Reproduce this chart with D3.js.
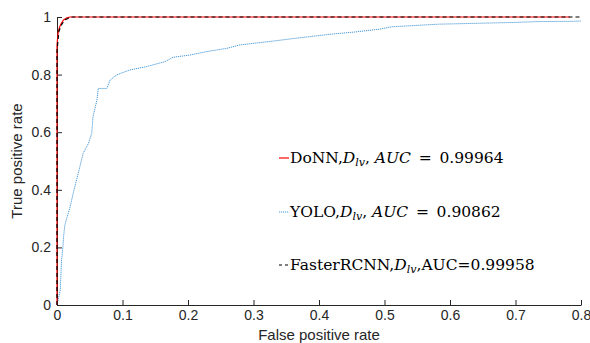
<!DOCTYPE html>
<html><head><meta charset="utf-8">
<script src="https://cdn.jsdelivr.net/npm/d3@7"></script>
<style>body{margin:0;background:#fff}svg{display:block}</style>
</head><body>
<script>
// ---- data ----
const xTicks = [0, 0.1, 0.2, 0.3, 0.4, 0.5, 0.6, 0.7, 0.8];
const yTicks = [0, 0.2, 0.4, 0.6, 0.8, 1];
const donnFpr = [0, 0, 0.001, 0.002, 0.004, 0.007, 0.010, 0.015, 0.020, 0.783];
const donnTpr = [0, 0.90, 0.93, 0.95, 0.965, 0.98, 0.99, 0.997, 1, 1];
const frcnnFpr = [0, 0, 0.002, 0.003, 0.006, 0.009, 0.012, 0.017, 0.022, 0.8];
const frcnnTpr = [0, 0.88, 0.93, 0.95, 0.97, 0.98, 0.99, 0.995, 1, 1];
const yoloFpr = [0, 0.002, 0.005, 0.007, 0.009, 0.010, 0.012, 0.020, 0.026, 0.033, 0.040, 0.048, 0.053, 0.055, 0.061, 0.063, 0.076, 0.081, 0.091, 0.111, 0.137, 0.165, 0.177, 0.203, 0.229, 0.259, 0.279, 0.325, 0.371, 0.417, 0.455, 0.493, 0.511, 0.582, 0.658, 0.696, 0.733, 0.788, 0.8];
const yoloTpr = [0, 0.02, 0.052, 0.156, 0.20, 0.237, 0.278, 0.341, 0.40, 0.463, 0.527, 0.561, 0.596, 0.654, 0.712, 0.752, 0.752, 0.781, 0.799, 0.816, 0.828, 0.845, 0.86, 0.868, 0.88, 0.891, 0.903, 0.915, 0.928, 0.94, 0.948, 0.958, 0.966, 0.975, 0.979, 0.981, 0.984, 0.985, 0.986];
const seriesNames = ["DoNN", "YOLO", "FasterRCNN"];
const aucValues = ["0.99964", "0.90862", "0.99958"];

const W = 590, H = 343;
const svg = d3.select("body").append("svg").attr("width", W).attr("height", H);
const x = d3.scaleLinear().domain([0, 0.8]).range([57, 581]);
const y = d3.scaleLinear().domain([0, 1]).range([305, 17]);
const axisColor = "#262626";
const tickFont = "Liberation Sans, Arial, sans-serif";

const xa = svg.append("g").attr("transform", `translate(0,${y(0)})`)
  .call(d3.axisBottom(x).tickValues(xTicks).tickFormat(d => d3.format("")(+d.toFixed(1))).tickSizeInner(-5).tickSizeOuter(0).tickPadding(5));
const ya = svg.append("g").attr("transform", `translate(${x(0)},0)`)
  .call(d3.axisLeft(y).tickValues(yTicks).tickFormat(d => d3.format("")(+d.toFixed(1))).tickSizeInner(-5).tickSizeOuter(0).tickPadding(6));
[xa, ya].forEach(g => {
  g.selectAll("path,line").attr("stroke", axisColor).attr("stroke-width", 1);
  g.selectAll("text").attr("fill", axisColor).style("font-family", tickFont).style("font-size", "14px");
});

svg.append("text").attr("x", x(0.4)).attr("y", 340).attr("text-anchor", "middle")
  .style("font-family", tickFont).style("font-size", "15px").attr("fill", axisColor).text("False positive rate");
svg.append("text").attr("transform", `translate(22,${y(0.5)}) rotate(-90)`).attr("text-anchor", "middle")
  .style("font-family", tickFont).style("font-size", "15px").attr("fill", axisColor).text("True positive rate");

const line = d3.line().x(d => x(d[0])).y(d => y(d[1]));
const zip = (a, b) => a.map((v, i) => [v, b[i]]);
const styles = [
  {stroke: "#ff0000", w: 1.2, dash: null},
  {stroke: "#4a9ad8", w: 1, dash: "1.2,0.8"},
  {stroke: "#000000", w: 1.2, dash: "4,3"}
];
const data = [zip(donnFpr, donnTpr), zip(yoloFpr, yoloTpr), zip(frcnnFpr, frcnnTpr)];
[1, 0, 2].forEach(i => {
  svg.append("path").datum(data[i]).attr("d", line).attr("fill", "none")
    .attr("stroke", styles[i].stroke).attr("stroke-width", styles[i].w)
    .attr("stroke-dasharray", styles[i].dash);
});

// legend
const serif = "DejaVu Serif, Liberation Serif, serif";
const rows = [163, 217, 270];
rows.forEach((by, i) => {
  svg.append("line").attr("x1", 279).attr("x2", 289).attr("y1", by - 5).attr("y2", by - 5)
    .attr("stroke", styles[i].stroke).attr("stroke-width", styles[i].w).attr("stroke-dasharray", i === 2 ? "3,3" : styles[i].dash);
  const t = svg.append("text").attr("x", 290).attr("y", by).style("font-family", serif).style("font-size", "15.5px").attr("fill", "#000");
  t.append("tspan").text(seriesNames[i] + ",");
  t.append("tspan").style("font-style", "italic").text("D");
  t.append("tspan").style("font-style", "italic").style("font-size", "11px").attr("dy", 3).text("lv");
  if (i < 2) {
    t.append("tspan").attr("dy", -3).text(", ");
    t.append("tspan").style("font-style", "italic").text("AUC");
    t.append("tspan").text("\u2002=\u2002" + aucValues[i]);
  } else {
    t.append("tspan").attr("dy", -3).text(",AUC=" + aucValues[i]);
  }
});
</script>
</body></html>
